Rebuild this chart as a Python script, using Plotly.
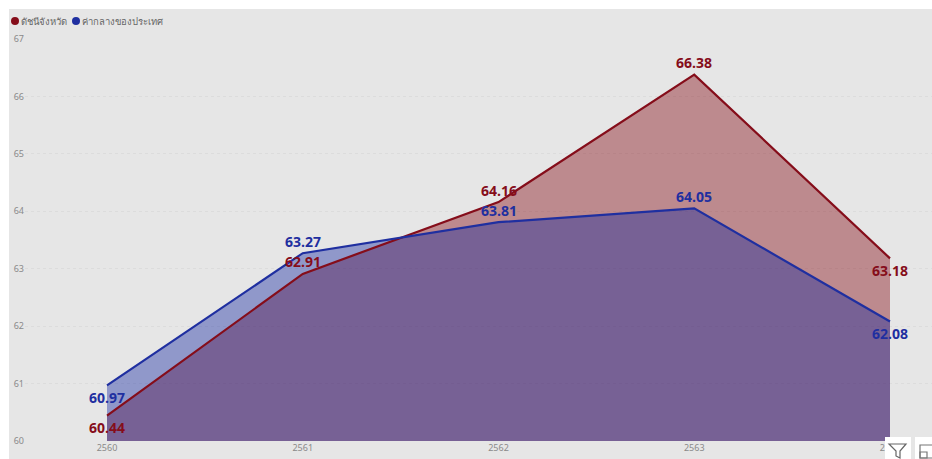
import plotly.graph_objects as go

W, H = 932, 459
L, R, T, B = 25, 0, 39, 18

years = [2560, 2561, 2562, 2563, 2564]
province_name = "ดัชนีจังหวัด"
national_name = "ค่ากลางของประเทศ"
province = [60.44, 62.91, 64.16, 66.38, 63.18]
national = [60.97, 63.27, 63.81, 64.05, 62.08]
y_ticks = [60, 61, 62, 63, 64, 65, 66, 67]

label_side = [-1, 1, 1, 1, -1]  # +1 above the point, -1 below it

RED, BLUE = "#850d1a", "#1f2fa0"
RED_FILL, BLUE_FILL = "rgba(128,0,10,0.40)", "rgba(15,35,160,0.40)"

fig = go.Figure()


def px(x):
    return (x - L) / (W - L - R)


def py(y):
    return 1 - (y - T) / (H - T - B)


def rect(x0, y0, x1, y1, color, layer="above"):
    fig.add_shape(type="rect", xref="paper", yref="paper", x0=px(x0), x1=px(x1),
                  y0=py(y1), y1=py(y0), fillcolor=color, line_width=0, layer=layer)


def legend_item(cx, text_x, color, label):
    fig.add_shape(type="circle", xref="paper", yref="paper", x0=px(cx - 4), x1=px(cx + 4),
                  y0=py(25), y1=py(17), fillcolor=color, line_width=0, layer="above")
    fig.add_annotation(xref="paper", yref="paper", x=px(text_x), y=py(21), xanchor="left",
                       yanchor="middle", text=label, showarrow=False,
                       font=dict(size=9.5, color="#666666"))


def data_labels(values, color):
    for x, v, side in zip(years, values, label_side):
        fig.add_annotation(x=x, y=v, text=f"{v:.2f}", showarrow=False, xanchor="center",
                           yanchor="middle", yshift=12 * side,
                           font=dict(family="Open Sans", size=14, color=color, weight="bold"))


# grey visual background, leaving the white strip on the top and left
rect(9, 9, 933, 460, "#e6e6e6", "below")

fig.add_trace(go.Scatter(x=years, y=province, mode="none", fill="tozeroy", fillcolor=RED_FILL,
                         showlegend=False, hoverinfo="skip"))
fig.add_trace(go.Scatter(x=years, y=national, mode="none", fill="tozeroy", fillcolor=BLUE_FILL,
                         showlegend=False, hoverinfo="skip"))
fig.add_trace(go.Scatter(x=years, y=province, mode="lines", name=province_name, showlegend=False,
                         line=dict(color=RED, width=2.2)))
fig.add_trace(go.Scatter(x=years, y=national, mode="lines", name=national_name, showlegend=False,
                         line=dict(color=BLUE, width=2.2)))

data_labels(province, RED)
data_labels(national, BLUE)

legend_item(15, 19, RED, province_name)
legend_item(76, 80, BLUE, national_name)

# visual-header buttons in the bottom right corner
rect(885, 437, 911, 460, "#ffffff")
rect(915, 437, 933, 460, "#ffffff")
fig.add_shape(type="path", xref="paper", yref="paper", layer="above",
              path=(f"M {px(889)} {py(444)} L {px(906)} {py(444)} L {px(900)} {py(451)} "
                    f"L {px(900)} {py(458)} L {px(896)} {py(456)} L {px(896)} {py(451)} Z"),
              line=dict(color="#666666", width=1.2))
fig.add_shape(type="rect", xref="paper", yref="paper", layer="above", x0=px(920), x1=px(935),
              y0=py(458), y1=py(445), line=dict(color="#777777", width=1.2))
fig.add_shape(type="rect", xref="paper", yref="paper", layer="above", x0=px(920), x1=px(927),
              y0=py(458), y1=py(452), line=dict(color="#777777", width=1.2))

fig.update_layout(
    width=W, height=H, margin=dict(l=L, r=R, t=T, b=B),
    paper_bgcolor="#ffffff", plot_bgcolor="rgba(0,0,0,0)", showlegend=False,
    font=dict(family="Noto Sans, Open Sans, sans-serif", color="#8a8a8a", size=9),
    xaxis=dict(range=[2560 - 82 / 195.75, 2564 + 42 / 195.75], tickvals=years,
               ticktext=[str(v) for v in years], showgrid=False, zeroline=False, showline=False,
               ticks="", tickfont=dict(size=9, color="#8a8a8a")),
    yaxis=dict(range=[60, 67], tickvals=y_ticks, showgrid=True, griddash="dot",
               gridcolor="#dcdcdc", gridwidth=1, zeroline=False, showline=False, ticks="",
               tickfont=dict(size=9, color="#8a8a8a")),
)

fig.write_html("out.html", config={"displayModeBar": False}, post_script=(
    "document.body.style.margin='0';"
    "document.documentElement.style.overflow='hidden';"))
